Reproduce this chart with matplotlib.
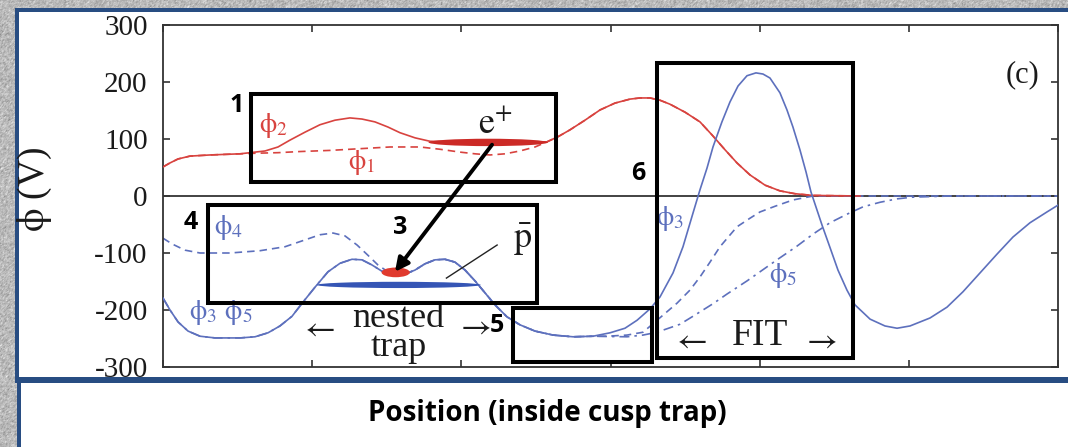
import numpy as np
import matplotlib
matplotlib.use("Agg")
import matplotlib.pyplot as plt
from matplotlib.patches import Rectangle, Ellipse

plt.rcParams['mathtext.fontset'] = 'stix'
SERIF = ['Liberation Serif', 'DejaVu Serif']
SANS = ['Open Sans', 'DejaVu Sans']

RED = '#d8433f'
BLUE = '#5d70bd'
NAVY = '#284d82'

# potentials along the trap axis (position in arbitrary units, volts)
x_phi2 = [0.000, 0.047, 0.101, 0.181, 0.315, 0.516, 0.617, 0.684, 0.771, 0.851,
          0.952, 1.052, 1.153, 1.253, 1.334, 1.421, 1.508, 1.589, 1.690, 1.790,
          1.991, 2.259, 2.574, 2.648, 2.728, 2.829, 2.930, 3.030, 3.131, 3.198,
          3.265, 3.332, 3.399, 3.500, 3.600, 3.681, 3.768, 3.848, 3.935, 4.036,
          4.136, 4.237, 4.357, 4.673]
phi2 = [51, 58, 65, 70, 72, 74, 77, 79, 86, 98,
        112, 125, 133, 137, 135, 130, 121, 111, 102, 96,
        95, 95, 95, 104, 116, 133, 151, 163, 170, 172,
        172, 168, 161, 147, 130, 107, 81, 58, 37, 19,
        9, 4, 1, 0]

x_phi1 = [0.000, 0.047, 0.101, 0.181, 0.315, 0.516, 0.617, 0.771, 0.918, 1.120,
          1.321, 1.522, 1.723, 1.857, 1.991, 2.092, 2.192, 2.293, 2.393, 2.494,
          2.574, 2.648, 2.728, 2.829, 2.930, 3.030, 3.131, 3.198, 3.265, 3.332,
          3.399, 3.500, 3.600, 3.681, 3.768, 3.848, 3.935, 4.036, 4.136, 4.237,
          4.357, 4.673]
phi1 = [51, 58, 65, 70, 72, 74, 75, 76, 78, 80,
        83, 86, 86, 82, 77, 74, 72, 74, 79, 86,
        95, 104, 116, 133, 151, 163, 170, 172, 172, 168,
        161, 147, 130, 107, 81, 58, 37, 19, 9, 4,
        1, 0]

x_phi3 = [0.000, 0.047, 0.101, 0.168, 0.248, 0.349, 0.516, 0.617, 0.704, 0.784,
          0.865, 0.939, 1.019, 1.106, 1.187, 1.267, 1.334, 1.401, 1.468, 1.555,
          1.622, 1.689, 1.756, 1.823, 1.890, 1.957, 2.025, 2.092, 2.159, 2.226,
          2.306, 2.393, 2.494, 2.615, 2.749, 2.883, 2.997, 3.097, 3.178, 3.265,
          3.332, 3.419, 3.486, 3.553, 3.600, 3.647, 3.687, 3.747, 3.801, 3.855,
          3.915, 3.975, 4.022, 4.069, 4.136, 4.183, 4.223, 4.270, 4.311, 4.344,
          4.418, 4.471, 4.525, 4.585, 4.639, 4.740, 4.840, 4.921, 5.008, 5.142,
          5.256, 5.363, 5.477, 5.591, 5.698, 5.812, 5.926, 6.000]
phi3 = [-179, -200, -221, -237, -246, -249, -249, -247, -240, -228,
        -211, -186, -160, -133, -118, -111, -112, -121, -132, -139,
        -137, -130, -119, -112, -111, -116, -130, -149, -170, -191,
        -212, -226, -237, -244, -247, -246, -240, -232, -218, -198,
        -177, -135, -89, -30, 11, 49, 86, 130, 165, 193,
        211, 216, 214, 207, 181, 151, 121, 81, 42, 7,
        -51, -90, -130, -165, -191, -216, -228, -232, -228, -214,
        -195, -168, -135, -102, -72, -47, -28, -16]

x_phi4 = [0.000, 0.060, 0.147, 0.248, 0.449, 0.650, 0.818, 0.952, 1.052, 1.140,
          1.220, 1.301, 1.374, 1.441, 1.508, 1.555, 1.622, 1.689, 1.756, 1.823,
          1.890, 1.957, 2.025, 2.092, 2.159, 2.226, 2.306, 2.393, 2.494, 2.615,
          2.749, 2.883, 2.977, 3.111, 3.218, 3.312, 3.446, 3.533, 3.600, 3.667,
          3.734, 3.848, 3.935, 4.002, 4.103, 4.223, 4.357, 6.000]
phi4 = [-74, -84, -95, -100, -100, -96, -89, -77, -68, -65,
        -70, -86, -104, -121, -133, -139, -137, -130, -119, -112,
        -111, -116, -130, -149, -170, -191, -212, -226, -237, -244,
        -247, -246, -246, -244, -239, -218, -188, -165, -142, -116,
        -89, -54, -39, -28, -18, -7, 0, 0]

x_phi5 = [0.000, 0.047, 0.101, 0.168, 0.248, 0.349, 0.516, 0.617, 0.704, 0.784,
          0.865, 0.939, 1.019, 1.106, 1.187, 1.267, 1.334, 1.401, 1.468, 1.555,
          1.622, 1.689, 1.756, 1.823, 1.890, 1.957, 2.025, 2.092, 2.159, 2.226,
          2.306, 2.393, 2.494, 2.615, 2.749, 2.883, 3.111, 3.218, 3.312, 3.466,
          3.553, 3.687, 3.781, 3.915, 4.002, 4.116, 4.250, 4.357, 4.471, 4.585,
          4.693, 4.807, 4.921, 5.028, 5.276, 6.000]
phi5 = [-179, -200, -221, -237, -246, -249, -249, -247, -240, -228,
        -211, -186, -160, -133, -118, -111, -112, -121, -132, -139,
        -137, -130, -119, -112, -111, -116, -130, -149, -170, -191,
        -212, -226, -237, -244, -247, -246, -247, -244, -239, -225,
        -211, -189, -172, -149, -133, -112, -88, -67, -47, -32,
        -19, -11, -5, -2, 0, 0]

y_ticks = [-300, -200, -100, 0, 100, 200, 300]
x_ticks = [0, 1, 2, 3, 4, 5, 6]

W, H = 1068, 447
fig = plt.figure(figsize=(W / 100, H / 100), dpi=100)


def fx(px):
    return px / W


def fy(py):
    return 1 - py / H


def panel(x0, y0, x1, y1, color, z):
    fig.add_artist(Rectangle((fx(x0), fy(y1)), fx(x1) - fx(x0), fy(y0) - fy(y1),
                             transform=fig.transFigure, facecolor=color,
                             edgecolor='none', zorder=z))


# grainy backdrop and the two white panels framed in navy
rng = np.random.default_rng(7)
grain = rng.normal(0.73, 0.08, (H, W))
grain = (grain + np.roll(grain, 1, 0) + np.roll(grain, 1, 1)) / 3
grain = np.clip(grain, 0, 1)
fig.figimage(np.dstack([grain, grain, grain]), 0, 0, zorder=-3)

panel(15, 8, W + 2, 383, NAVY, -2)
panel(17, 377, W + 2, H + 2, NAVY, -2)
panel(19, 12, W + 2, 377, 'white', -1)
panel(21, 383, W + 2, H + 2, 'white', -1)

ax = fig.add_axes([fx(163), fy(367), fx(1058) - fx(163), fy(25) - fy(367)])
ax.set_xlim(0, 6)
ax.set_ylim(-300, 300)
ax.set_facecolor('white')

ax.axhline(0, color='#222222', lw=1.2, zorder=1)

ax.plot(x_phi1, phi1, color=RED, lw=1.2, ls=(0, (4.5, 3)), zorder=2)
ax.plot(x_phi2, phi2, color=RED, lw=1.2, zorder=3)
ax.plot(x_phi5, phi5, color=BLUE, lw=1.2, ls=(0, (6, 3, 1.5, 3)), zorder=2)
ax.plot(x_phi4, phi4, color=BLUE, lw=1.2, ls=(0, (4.5, 3)), zorder=2)
ax.plot(x_phi3, phi3, color=BLUE, lw=1.2, zorder=3)

# particle clouds
ax.add_patch(Ellipse((2.18, 94), 0.80, 13, facecolor='#cc2a26', edgecolor='none', zorder=4))
ax.add_patch(Ellipse((1.56, -134), 0.19, 17, facecolor='#e03a2e', edgecolor='none', zorder=4))
ax.add_patch(Ellipse((1.58, -156), 1.10, 11, facecolor='#3555b5', edgecolor='none', zorder=4))

ax.set_yticks(y_ticks)
ax.set_yticklabels([str(v) for v in y_ticks], fontfamily=SERIF, fontsize=21, color='#1a1a1a')
ax.set_xticks(x_ticks)
ax.set_xticklabels([])
ax.tick_params(direction='in', length=5, width=1.2, color='#333333',
               top=True, right=True, pad=11)
for s in ax.spines.values():
    s.set_color('#333333')
    s.set_linewidth(1.3)

ax.set_ylabel(r'$\mathrm{\phi}$ (V)', fontfamily=SERIF, fontsize=27, color='#1a1a1a')
ax.yaxis.set_label_coords(-0.122, 0.52)

# curve labels
lab = dict(fontsize=20, ha='center', va='center', zorder=6)
ax.text(0.74, 123, r'$\mathrm{\phi}_2$', color=RED, **lab)
ax.text(1.33, 58, r'$\mathrm{\phi}_1$', color=RED, **lab)
ax.text(0.44, -56, r'$\mathrm{\phi}_4$', color=BLUE, **lab)
ax.text(0.39, -204, r'$\mathrm{\phi}_3\ \mathrm{\phi}_5$', color=BLUE, **lab)
ax.text(3.40, -39, r'$\mathrm{\phi}_3$', color=BLUE, **lab)
ax.text(4.16, -139, r'$\mathrm{\phi}_5$', color=BLUE, **lab)

ser = dict(fontfamily=SERIF, ha='center', va='center', color='#1a1a1a', zorder=6)
arw = dict(ha='center', va='center', color='#1a1a1a', zorder=6, fontsize=24)
ax.text(5.76, 212, '(c)', fontsize=22, **ser)
ax.text(2.23, 128, r'$\mathrm{e}^{+}$', fontsize=26, ha='center', va='center', color='#1a1a1a')
ax.text(2.41, -77, r'$\bar{\mathrm{p}}$', fontsize=26, ha='center', va='center', color='#1a1a1a')
ax.plot([2.24, 1.90], [-86, -144], color='#222222', lw=1.0, zorder=5)
ax.text(1.58, -240, 'nested\ntrap', fontsize=26, linespacing=0.82, **ser)
ax.text(1.04, -230, r'$\leftarrow$', **arw)
ax.text(2.08, -226, r'$\rightarrow$', **arw)
ax.text(4.00, -246, 'FIT', fontsize=27, **ser)
ax.text(3.53, -251, r'$\leftarrow$', **arw)
ax.text(4.40, -251, r'$\rightarrow$', **arw)

# numbered boxes
box = dict(fill=False, edgecolor='black', lw=2.9, zorder=7, clip_on=False)
ax.add_patch(Rectangle((0.590, 24.6), 2.045, 154.4, **box))
ax.add_patch(Rectangle((0.302, -187.7), 2.205, 171.9, **box))
ax.add_patch(Rectangle((2.346, -291.2), 0.932, 94.7, **box))
ax.add_patch(Rectangle((3.312, -284.2), 1.314, 517.5, **box))

num = dict(fontfamily=SANS, fontweight='bold', fontsize=18, ha='center',
           va='center', color='black', zorder=8)
ax.text(0.496, 158, '1', **num)
ax.text(0.188, -47, '4', **num)
ax.text(1.589, -56, '3', **num)
ax.text(2.239, -228, '5', **num)
ax.text(3.184, 39, '6', **num)

ax.annotate('', xy=(1.555, -133), xytext=(2.206, 90),
            arrowprops=dict(arrowstyle='-|>', lw=2.8, color='black',
                            mutation_scale=20, shrinkA=0, shrinkB=0), zorder=8)

fig.text(fx(547), fy(421), 'Position (inside cusp trap)', fontfamily=SANS,
         fontweight='bold', fontsize=20, ha='center', va='baseline', color='black')

fig.savefig('out.png', dpi=100)
